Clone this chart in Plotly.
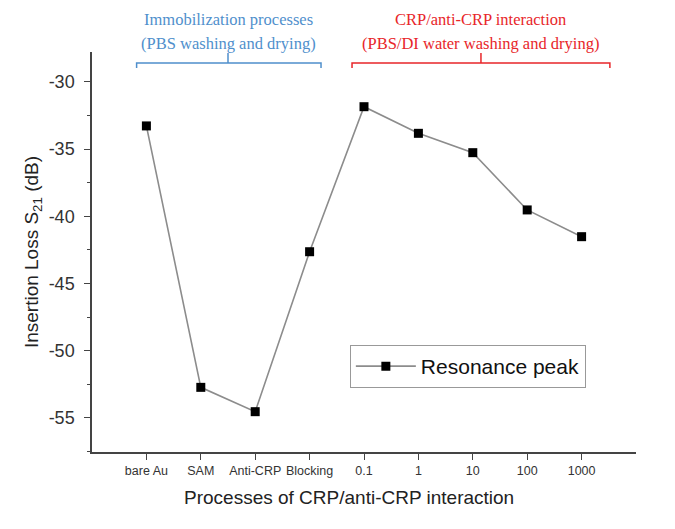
import plotly.graph_objects as go

categories = ["bare Au", "SAM", "Anti-CRP", "Blocking", "0.1", "1", "10", "100", "1000"]
positions = [1, 2, 3, 4, 5, 6, 7, 8, 9]
resonance_peak = [-33.27, -52.72, -54.53, -42.63, -31.84, -33.82, -35.26, -39.52, -41.51]

y_ticks = [-55, -50, -45, -40, -35, -30]
y_tick_labels = ["-55", "-50", "-45", "-40", "-35", "-30"]

fig = go.Figure()
fig.add_trace(go.Scatter(
    x=positions, y=resonance_peak, mode="lines+markers", name="Resonance peak",
    line=dict(color="#8c8c8c", width=1.6),
    marker=dict(symbol="square", size=9, color="black"),
))

axis_color = "#444444"
fig.update_layout(
    width=675, height=529,
    margin=dict(l=92, r=39, t=52, b=77, autoexpand=False),
    paper_bgcolor="white", plot_bgcolor="white",
    font=dict(family="Arial, Liberation Sans, sans-serif", color="#222222"),
    showlegend=True,
    legend=dict(x=0.474, y=0.2675, xanchor="left", yanchor="top",
                bordercolor="#999999", borderwidth=1, bgcolor="white",
                font=dict(size=21, color="#111111"),
                itemwidth=60, tracegroupgap=0),
    xaxis=dict(range=[0, 10], tickvals=positions, ticktext=categories,
               automargin=False, tickangle=0,
               showline=True, linecolor=axis_color, linewidth=1.5,
               ticks="outside", ticklen=6, tickcolor=axis_color, tickwidth=1.3,
               showgrid=False, zeroline=False,
               tickfont=dict(size=12.5, color="#333333")),
    yaxis=dict(range=[-57.53, -27.77], tickvals=y_ticks, ticktext=y_tick_labels,
               automargin=False,
               showline=True, linecolor=axis_color, linewidth=1.5,
               ticks="outside", ticklen=6, tickcolor=axis_color, tickwidth=1.3,
               ticklabelstandoff=6,
               minor=dict(tickvals=[-57.5, -52.5, -47.5, -42.5, -37.5, -32.5, -27.5], ticks="outside", ticklen=3, tickcolor=axis_color),
               showgrid=False, zeroline=False,
               tickfont=dict(size=18, color="#333333"),
               title=dict(text="Insertion Loss S<sub>21</sub> (dB)",
                          font=dict(size=19, color="#222222"), standoff=5)),
)

fig.add_annotation(text="Processes of CRP/anti-CRP interaction", x=0.472, y=-0.1125,
                   xref="paper", yref="paper", xanchor="center", yanchor="middle",
                   showarrow=False, font=dict(size=19, color="#222222"))

blue = "#4f8fcc"
red = "#e8262a"

def bracket(x0, x1, xc, color):
    y_bar, y_end, y_top = 0.9725, 0.96, 0.9975
    fig.add_shape(type="path", xref="x", yref="paper",
                  path=f"M {x0} {y_end} L {x0} {y_bar} L {x1} {y_bar} L {x1} {y_end}",
                  line=dict(color=color, width=1.5))
    fig.add_shape(type="line", xref="x", yref="paper",
                  x0=xc, x1=xc, y0=y_bar, y1=y_top, line=dict(color=color, width=1.5))

bracket(0.82, 4.21, 2.50, blue)
bracket(4.78, 9.52, 7.15, red)

serif = "Liberation Serif, Times New Roman, serif"
for text, xc, yp, color in [
    ("Immobilization processes", 2.50, 1.08, blue),
    ("(PBS washing and drying)", 2.50, 1.0225, blue),
    ("CRP/anti-CRP interaction", 7.15, 1.08, red),
    ("(PBS/DI water washing and drying)", 7.15, 1.0225, red),
]:
    fig.add_annotation(text=text, x=xc, y=yp, xref="x", yref="paper",
                       xanchor="center", yanchor="middle", showarrow=False,
                       font=dict(family=serif, size=16.5, color=color))

fig.write_html("out.html", config={"displayModeBar": False},
               post_script="document.body.style.margin='0';")
